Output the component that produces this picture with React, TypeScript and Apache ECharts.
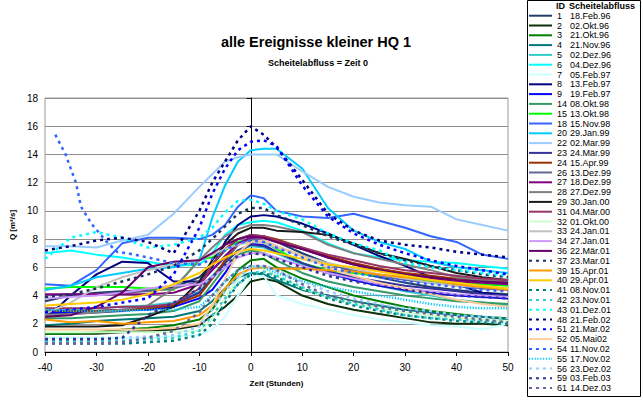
import React, { useEffect, useRef } from "react";
import * as echarts from "echarts";

const HOURS = [-40, -35, -30, -25, -20, -15, -10, -7.5, -5, -2.5, 0, 2.5, 5, 10, 15, 20, 25, 30, 35, 40, 45, 50];
const X_TICKS = [-40, -30, -20, -10, 0, 10, 20, 30, 40, 50];

const q1 = [3.6, 4.0, 4.2, 4.3, 4.4, 4.6, 5.3, 6.2, 7.2, 8.0, 8.3, 8.2, 7.8, 7.0, 6.3, 5.7, 5.3, 4.9, 4.6, 4.4, 4.2, 4.1];
const q2 = [1.3, 1.3, 1.3, 1.4, 1.5, 1.6, 1.9, 2.6, 3.2, 4.0, 5.0, 5.2, 5.0, 4.0, 3.4, 3.0, 2.7, 2.4, 2.1, 2.0, 2.0, 1.9];
const q3 = [1.3, 1.3, 1.4, 1.6, 1.7, 1.9, 2.3, 3.0, 4.4, 5.8, 6.5, 6.6, 6.0, 5.2, 4.6, 4.0, 3.6, 3.2, 2.9, 2.7, 2.5, 2.4];
const q4 = [1.9, 2.0, 2.2, 2.3, 2.4, 2.5, 2.9, 3.6, 4.5, 5.3, 5.6, 5.5, 5.1, 4.4, 4.0, 3.6, 3.3, 3.0, 2.8, 2.6, 2.5, 2.3];
const q5 = [3.0, 3.0, 3.1, 3.2, 3.3, 3.5, 4.3, 5.4, 6.4, 7.2, 7.5, 7.4, 7.0, 6.2, 5.6, 5.1, 4.7, 4.3, 4.0, 3.7, 3.5, 3.3];
const q6 = [7.0, 7.2, 6.9, 6.7, 6.4, 6.1, 6.2, 7.0, 8.3, 9.0, 9.2, 9.3, 9.2, 8.6, 7.7, 7.0, 6.7, 6.5, 6.4, 6.3, 6.1, 5.9];
const q7 = [1.0, 1.0, 1.0, 1.0, 1.0, 1.1, 1.2, 1.6, 2.5, 4.0, 5.3, 5.4, 4.0, 3.4, 3.0, 2.6, 2.3, 2.1, 1.9, 1.8, 1.6, 2.0];
const q8 = [2.3, 4.0, 5.5, 6.4, 6.3, 5.0, 5.0, 6.0, 7.8, 9.0, 9.6, 9.7, 9.6, 9.1, 8.4, 7.6, 6.8, 6.1, 5.3, 4.8, 4.2, 4.0];
const q9 = [2.8, 2.8, 2.9, 3.0, 3.0, 3.2, 3.8, 4.4, 5.6, 7.0, 7.7, 7.6, 7.1, 6.3, 5.6, 5.1, 4.7, 4.4, 4.2, 4.0, 3.9, 3.8];
const q14 = [2.4, 2.4, 2.5, 2.6, 2.7, 2.9, 3.6, 4.8, 6.0, 6.9, 7.2, 7.0, 6.5, 5.6, 5.0, 4.6, 4.3, 4.0, 3.8, 3.6, 3.5, 3.4];
const q15 = [4.5, 4.6, 4.6, 4.6, 4.5, 4.4, 6.6, 6.7, 7.2, 7.8, 8.0, 7.8, 7.3, 6.3, 5.8, 5.6, 5.4, 5.2, 5.0, 4.9, 4.8, 4.7];
const q18 = [4.8, 4.7, 5.8, 7.7, 8.1, 8.1, 8.0, 8.3, 9.0, 10.3, 11.1, 10.9, 10.0, 9.6, 9.5, 9.8, 9.3, 8.8, 8.2, 7.8, 6.9, 6.6];
const q20 = [4.4, 4.7, 5.3, 5.6, 5.9, 6.0, 6.5, 9.5, 11.8, 13.5, 14.3, 14.4, 14.4, 13.0, 10.2, 8.6, 7.8, 7.3, 6.4, 6.0, 5.8, 5.6];
const q22 = [7.5, 7.5, 7.4, 7.9, 8.3, 9.8, 11.7, 12.6, 13.5, 13.8, 14.0, 14.0, 14.0, 12.8, 11.7, 11.0, 10.6, 10.4, 10.3, 9.4, 9.0, 8.6];
const q23 = [2.7, 2.7, 2.8, 2.9, 3.1, 3.4, 4.2, 5.2, 6.3, 7.2, 7.6, 7.5, 7.1, 6.3, 5.7, 5.3, 5.0, 4.7, 4.5, 4.3, 4.1, 4.0];
const q24 = [2.9, 2.9, 2.9, 3.0, 3.1, 3.3, 4.0, 5.2, 6.5, 7.6, 8.1, 8.2, 8.0, 7.4, 6.8, 6.3, 5.9, 5.6, 5.4, 5.2, 5.1, 5.0];
const q26 = [4.0, 4.1, 4.1, 4.2, 4.3, 4.5, 5.0, 5.8, 6.7, 7.6, 8.0, 7.9, 7.5, 6.8, 6.2, 5.8, 5.4, 5.1, 4.9, 4.7, 4.5, 4.4];
const q27 = [4.1, 4.1, 4.1, 4.1, 4.1, 4.2, 4.8, 5.8, 6.8, 7.7, 8.1, 8.1, 7.8, 7.3, 6.7, 6.2, 5.8, 5.5, 5.2, 5.0, 4.9, 4.8];
const q28 = [2.6, 2.7, 2.8, 3.0, 3.3, 4.5, 6.5, 7.4, 8.2, 8.7, 9.0, 9.0, 8.9, 8.5, 7.6, 7.0, 6.6, 6.2, 5.8, 5.3, 5.1, 5.0];
const q29 = [1.8, 1.8, 1.8, 1.9, 2.5, 3.2, 5.0, 6.5, 7.6, 8.4, 8.8, 8.8, 8.6, 8.5, 8.3, 7.7, 7.0, 6.6, 6.1, 5.6, 5.3, 5.1];
const q31 = [3.1, 3.1, 3.1, 3.2, 3.2, 3.4, 4.5, 6.2, 7.3, 8.0, 8.3, 8.2, 7.9, 7.4, 6.9, 6.5, 6.1, 5.8, 5.6, 5.4, 5.2, 5.1];
const q32 = [1.4, 1.4, 1.4, 1.4, 1.4, 1.4, 1.5, 2.3, 3.8, 5.2, 6.0, 5.9, 5.4, 4.5, 3.9, 3.5, 3.1, 2.8, 2.6, 2.4, 2.3, 2.2];
const q33 = [2.7, 3.5, 4.6, 5.3, 5.8, 6.2, 6.5, 6.9, 7.3, 7.6, 7.8, 7.7, 7.4, 6.8, 6.3, 5.9, 5.5, 5.2, 4.9, 4.7, 4.6, 4.5];
const q34 = [3.8, 3.9, 4.0, 4.2, 4.5, 4.7, 4.8, 5.3, 6.0, 6.7, 7.0, 7.0, 6.7, 6.1, 5.6, 5.2, 4.8, 4.5, 4.3, 4.1, 4.0, 3.9];
const q36 = [2.5, 2.6, 3.2, 4.2, 6.0, 6.4, 6.5, 7.0, 7.6, 8.0, 8.2, 8.1, 7.8, 7.3, 6.7, 6.2, 5.8, 5.5, 5.3, 5.1, 5.0, 4.9];
const q37 = [3.9, 4.1, 4.5, 5.0, 5.5, 6.1, 7.2, 8.0, 8.9, 9.8, 10.2, 10.2, 9.7, 9.0, 8.2, 7.6, 7.0, 6.5, 6.1, 5.8, 5.5, 5.3];
const q39 = [2.3, 2.1, 2.2, 2.0, 2.1, 2.2, 2.6, 3.3, 4.5, 5.5, 5.9, 6.0, 5.9, 5.9, 5.8, 5.7, 5.5, 5.3, 5.1, 4.8, 4.6, 4.4];
const q40 = [3.3, 3.4, 3.5, 3.7, 4.1, 4.8, 5.6, 6.2, 6.7, 7.1, 7.3, 7.2, 7.0, 6.6, 6.2, 6.0, 5.7, 5.4, 5.1, 4.9, 4.7, 4.5];
const q41 = [0.6, 0.6, 0.6, 0.6, 0.7, 0.8, 1.2, 2.0, 3.5, 4.8, 5.5, 5.6, 5.3, 4.5, 3.8, 3.3, 2.9, 2.6, 2.4, 2.2, 2.1, 2.0];
const q42 = [0.8, 0.8, 0.8, 0.8, 0.9, 1.0, 1.5, 2.6, 3.8, 4.8, 5.6, 5.7, 5.4, 4.6, 3.9, 3.4, 3.0, 2.6, 2.4, 2.3, 2.2, 2.1];
const q43 = [6.6, 8.1, 8.5, 8.1, 7.4, 7.6, 8.1, 8.8, 9.9, 10.7, 10.8, 10.5, 10.0, 9.4, 8.4, 7.7, 7.2, 6.3, 6.0, 5.8, 5.6, 5.4];
const q48 = [7.2, 7.5, 7.9, 8.1, 7.8, 7.0, 10.0, 12.0, 13.5, 15.0, 16.0, 15.4, 14.5, 12.2, 9.8, 8.6, 7.9, 7.6, 7.4, 7.1, 6.9, 6.7];
const q51 = [2.8, 3.0, 3.2, 3.5, 3.8, 5.5, 8.8, 11.2, 13.0, 14.3, 14.9, 15.0, 14.6, 11.8, 9.6, 8.4, 7.6, 7.0, 6.5, 6.1, 5.8, 5.5];
const q52 = [1.6, 1.6, 1.6, 1.6, 1.6, 1.7, 2.0, 3.3, 5.2, 7.0, 7.8, 7.9, 7.5, 6.8, 6.0, 5.4, 4.9, 4.5, 4.1, 3.7, 3.4, 3.2];
const H54 = [-38, -36, -34, -33, -31, -28, -26, -24, -20, -15, -10, -7.5, -5, -2.5, 0, 2.5, 5, 10, 15, 20, 25, 30, 35, 40, 45, 50];
const q54 = [15.4, 14.0, 12.0, 10.3, 9.1, 7.8, 7.1, 7.0, 6.7, 6.3, 6.2, 6.6, 7.2, 7.7, 7.9, 7.8, 7.4, 6.7, 6.0, 5.6, 5.3, 5.0, 4.8, 4.6, 4.4, 4.3];
const q55 = [3.0, 2.9, 2.9, 2.9, 3.0, 3.0, 3.2, 4.0, 5.0, 5.8, 6.1, 6.0, 5.6, 5.0, 4.6, 4.3, 4.0, 3.7, 3.4, 3.2, 3.1, 3.1];
const q56 = [1.0, 1.0, 1.0, 1.0, 1.1, 1.2, 1.8, 3.0, 4.3, 5.3, 6.0, 6.1, 5.8, 5.0, 4.3, 3.8, 3.4, 3.1, 2.9, 2.6, 2.5, 2.4];
const q59 = [0.9, 0.9, 0.9, 1.0, 2.6, 3.5, 4.5, 5.3, 6.2, 6.8, 7.0, 6.9, 6.6, 6.0, 5.4, 5.0, 4.7, 4.4, 4.2, 4.0, 3.9, 3.8];
const q61 = [0.6, 0.6, 0.6, 0.7, 1.0, 1.5, 2.8, 4.0, 5.0, 5.8, 6.1, 6.1, 5.8, 4.8, 4.0, 3.6, 3.2, 2.9, 2.7, 2.5, 2.3, 2.1];

const DASH = [3, 4];
const DOT = [1.2, 1.6];

const SERIES = [
  { id: "1", date: "18.Feb.96", values: q1, color: "#213e6b" },
  { id: "2", date: "02.Okt.96", values: q2, color: "#0c300c" },
  { id: "3", date: "21.Okt.96", values: q3, color: "#008000" },
  { id: "4", date: "21.Nov.96", values: q4, color: "#007878" },
  { id: "5", date: "02.Dez.96", values: q5, color: "#33cccc" },
  { id: "6", date: "04.Dez.96", values: q6, color: "#00ffff" },
  { id: "7", date: "05.Feb.97", values: q7, color: "#ccffff" },
  { id: "8", date: "13.Feb.97", values: q8, color: "#000080" },
  { id: "9", date: "19.Feb.97", values: q9, color: "#0000ff" },
  { id: "14", date: "08.Okt.98", values: q14, color: "#339966" },
  { id: "15", date: "13.Okt.98", values: q15, color: "#00ff00" },
  { id: "18", date: "15.Nov.98", values: q18, color: "#3366ff" },
  { id: "20", date: "29.Jan.99", values: q20, color: "#00ccff" },
  { id: "22", date: "02.Mar.99", values: q22, color: "#99ccff" },
  { id: "23", date: "24.Mär.99", values: q23, color: "#333399" },
  { id: "24", date: "15.Apr.99", values: q24, color: "#993300" },
  { id: "26", date: "13.Dez.99", values: q26, color: "#666699" },
  { id: "27", date: "18.Dez.99", values: q27, color: "#800080" },
  { id: "28", date: "27.Dez.99", values: q28, color: "#808080" },
  { id: "29", date: "30.Jan.00", values: q29, color: "#1a1a1a" },
  { id: "31", date: "04.Mär.00", values: q31, color: "#993366" },
  { id: "32", date: "01.Okt.00", values: q32, color: "#ccffcc" },
  { id: "33", date: "24.Jan.01", values: q33, color: "#c0c0c0" },
  { id: "34", date: "27.Jan.01", values: q34, color: "#cc99ff" },
  { id: "36", date: "22.Mär.01", values: q36, color: "#660066" },
  { id: "37", date: "23.Mar.01", values: q37, color: "#17365d", dash: DASH },
  { id: "39", date: "15.Apr.01", values: q39, color: "#ff9900" },
  { id: "40", date: "29.Apr.01", values: q40, color: "#ffcc00" },
  { id: "41", date: "08.Nov.01", values: q41, color: "#008080", dash: DASH },
  { id: "42", date: "23.Nov.01", values: q42, color: "#33cccc", dash: DASH },
  { id: "43", date: "01.Dez.01", values: q43, color: "#00ffff", dash: DASH },
  { id: "48", date: "21.Feb.02", values: q48, color: "#000080", dash: DASH },
  { id: "51", date: "21.Mar.02", values: q51, color: "#0000ff", dash: DASH },
  { id: "52", date: "05.Mai02", values: q52, color: "#ffcc99" },
  { id: "54", date: "11.Nov.02", values: q54, hours: H54, color: "#3366ff", dash: DASH },
  { id: "55", date: "17.Nov.02", values: q55, color: "#00ccff", dash: DOT },
  { id: "56", date: "23.Dez.02", values: q56, color: "#99ccff", dash: DASH },
  { id: "59", date: "03.Feb.03", values: q59, color: "#333399", dash: DASH },
  { id: "61", date: "14.Dez.03", values: q61, color: "#666699", dash: DASH },
];

const FONT = "'Liberation Sans', Arial, sans-serif";

export default function App() {
  const ref = useRef<HTMLDivElement>(null);
  useEffect(() => {
    if (!ref.current) return;
    const chart = echarts.init(ref.current, undefined, { renderer: "svg" });
    const series = SERIES.map((s: any) => ({
      type: "line",
      name: s.id + " " + s.date,
      data: (s.hours || HOURS).map((h: number, i: number) => [h, s.values[i]]),
      symbol: "circle",
      showSymbol: false,
      symbolSize: 0,
      silent: true,
      lineStyle: { color: s.color, width: s.dash ? 2.5 : 2, type: s.dash || "solid" },
      itemStyle: { color: s.color },
    }));
    chart.setOption({
      animation: false,
      textStyle: { fontFamily: FONT },
      grid: {
        left: 33,
        right: 135,
        top: 98,
        bottom: 50,
        show: true,
        borderColor: "#999999",
        borderWidth: 1,
        backgroundColor: "transparent",
      },
      xAxis: {
        type: "value",
        min: -40,
        max: 50,
        interval: 10,
        name: "Zeit (Stunden)",
        nameLocation: "middle",
        nameGap: 27,
        nameTextStyle: { fontFamily: FONT, fontSize: 8, fontWeight: "bold", color: "#000" },
        axisLine: { show: true, onZero: false, lineStyle: { color: "#000", width: 1 } },
        axisTick: { show: true, length: 4, lineStyle: { color: "#000" } },
        axisLabel: {
          fontFamily: FONT,
          fontSize: 10,
          color: "#000",
          margin: 10,
          customValues: X_TICKS,
        },
        splitLine: { show: false },
      },
      yAxis: {
        type: "value",
        min: 0,
        max: 18,
        interval: 2,
        name: "Q [m³/s]",
        nameLocation: "middle",
        nameGap: 18,
        nameTextStyle: { fontFamily: FONT, fontSize: 8, fontWeight: "bold", color: "#000" },
        axisLine: { show: true, lineStyle: { color: "#000", width: 1 } },
        axisTick: { show: true, length: 4, lineStyle: { color: "#000" } },
        axisLabel: { fontFamily: FONT, fontSize: 10, color: "#000", margin: 7 },
        splitLine: { show: true, lineStyle: { color: "#8f8f8f", width: 1 } },
      },
      legend: {
        orient: "vertical",
        left: 528,
        top: 10.8,
        height: 390,
        padding: 0,
        itemWidth: 23,
        itemHeight: 9,
        itemGap: 0,
        selectedMode: false,
        itemStyle: { opacity: 0, borderWidth: 0 },
        data: SERIES.map((s) => s.id + " " + s.date),
        formatter: (name: string) => {
          const i = name.indexOf(" ");
          return "{a|" + name.slice(0, i) + "}{b|" + name.slice(i + 1) + "}";
        },
        textStyle: {
          fontFamily: FONT,
          fontSize: 9,
          lineHeight: 9.8,
          color: "#000",
          rich: {
            a: { width: 13, fontSize: 9, lineHeight: 9.8, fontFamily: FONT, color: "#000" },
            b: { fontSize: 9, lineHeight: 9.8, fontFamily: FONT, color: "#000" },
          },
        },
      },
      graphic: [
        {
          type: "text",
          x: 316,
          y: 42,
          style: {
            text: "alle Ereignisse kleiner HQ 1",
            fontFamily: FONT,
            fontSize: 14.5,
            fontWeight: "bold",
            fill: "#000",
            textAlign: "center",
            textVerticalAlign: "middle",
          },
        },
        {
          type: "text",
          x: 318,
          y: 63,
          style: {
            text: "Scheitelabfluss = Zeit 0",
            fontFamily: FONT,
            fontSize: 9,
            fontWeight: "bold",
            fill: "#000",
            textAlign: "center",
            textVerticalAlign: "middle",
          },
        },
        {
          type: "rect",
          shape: { x: 527.5, y: 0.5, width: 113, height: 396 },
          style: { fill: "none", stroke: "#000", lineWidth: 1 },
          silent: true,
        },
        {
          type: "text",
          x: 556,
          y: 6,
          style: { text: "ID", fontFamily: FONT, fontSize: 9, fontWeight: "bold", fill: "#000", textVerticalAlign: "middle" },
        },
        {
          type: "text",
          x: 569,
          y: 6,
          style: { text: "Scheitelabfluss", fontFamily: FONT, fontSize: 9, fontWeight: "bold", fill: "#000", textVerticalAlign: "middle" },
        },
      ],
      series,
    });
    return () => chart.dispose();
  }, []);
  return <div ref={ref} style={{ position: "absolute", left: 0, top: 0, width: 643, height: 402 }} />;
}
